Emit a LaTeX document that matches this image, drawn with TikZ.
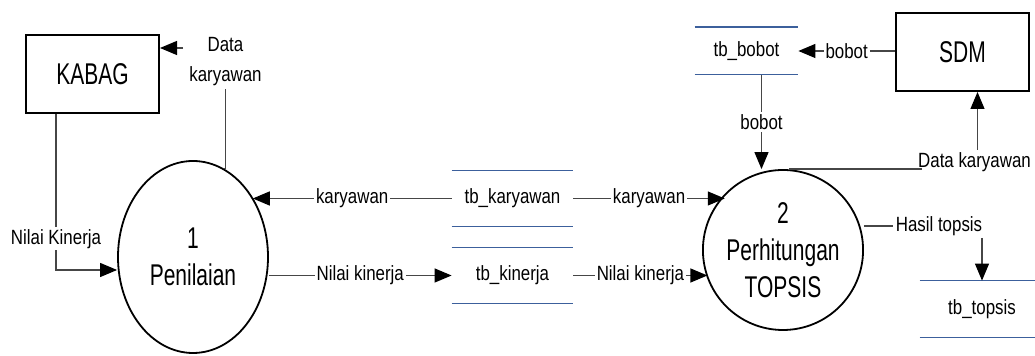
\documentclass[tikz,border=0pt]{standalone}
\usepackage{fontspec}
\usepackage{tikz}
\usetikzlibrary{shapes.geometric,arrows.meta}
\setmainfont[FakeStretch=0.82]{Liberation Sans}
\newfontfamily\bigfont[FakeStretch=0.7]{Liberation Sans}
\definecolor{storeblue}{RGB}{60,96,156}
\definecolor{flowgray}{RGB}{70,70,70}
\tikzset{entity/.style={draw, line width=1pt, minimum width=66.5pt, minimum height=39pt, font=\bigfont\fontsize{15}{17}\selectfont},
  process/.style={draw, ellipse, line width=0.9pt, align=center, inner sep=0pt, font=\bigfont\fontsize{15}{18.5}\selectfont},
  store/.style={inner sep=0pt, font=\fontsize{10.3}{12}\selectfont},
  storeline/.style={draw=storeblue, line width=0.6pt},
  line/.style={draw=flowgray, line width=0.6pt},
  flow/.style={line, -{Triangle[length=8.5pt,width=7pt,color=black]}},
  lbl/.style={fill=white, inner sep=1pt, align=center, font=\fontsize{10.3}{15}\selectfont}}

\begin{document}
\begin{tikzpicture}[x=0.5pt, y=-0.5pt]
  \useasboundingbox (0,0) rectangle (1035,356);

  % external entities
  \node [entity] (kabag) at (92.5,74) {KABAG};
  \node [entity] (sdm) at (962.5,52) {SDM};

  % processes
  \node [process, minimum width=75pt, minimum height=96pt] (p1) at (193,257) {1\\Penilaian};
  \node [process, minimum width=72pt, minimum height=80pt] (p2) at (783,250) {2\\Perhitungan\\TOPSIS};

  % data stores
  \node [store, minimum width=60.5pt, minimum height=27.5pt] (kar) at (512.5,198.5) {tb\_karyawan};
  \node [store, minimum width=60.5pt, minimum height=27.5pt] (kin) at (512.5,275.5) {tb\_kinerja};
  \node [store, minimum width=51.5pt, minimum height=23.5pt] (bob) at (746.5,51) {tb\_bobot};
  \node [store, minimum width=62pt, minimum height=28pt] (top) at (982,309) {tb\_topsis};
  \foreach \s in {kar,kin,bob,top}
    \draw [storeline] (\s.north west) -- (\s.north east) (\s.south west) -- (\s.south east);

  % labels standing at corners
  \node [lbl] (dk1) at (225.5,62) {Data\\karyawan};
  \node [lbl] (dk2) at (974.5,162) {Data karyawan};
  \node [lbl] (hs) at (939,226) {Hasil topsis};
  \coordinate (dkin) at (183,48);

  % flows
  \draw [line] (p1.71) -- (dk1.south |- p1.71) -- (dk1.south);
  \draw [flow] (dkin) -- (dkin -| kabag.east);
  \draw [flow] ([xshift=-18.25pt]kabag.south) -- node[lbl, pos=0.8] {Nilai Kinerja} ([xshift=-18.25pt]kabag.south |- 0,270) -- ([yshift=-6.5pt]p1.west);
  \draw [flow] (kar.west) -- node[lbl] {karyawan} (p1.45 |- kar.west);
  \draw [flow] (p1.east |- kin.west) -- node[lbl] {Nilai kinerja} (kin.west);
  \draw [flow] (kar.east) -- node[lbl] {karyawan} (p2.136 |- kar.east);
  \draw [flow] (kin.east) -- node[lbl] {Nilai kinerja} (p2.201 |- kin.east);
  \draw [flow] (sdm.west |- bob.east) -- node[lbl] {bobot} (bob.east);
  \draw [flow] ([xshift=7.5pt]bob.south) -- node[lbl] {bobot} ([xshift=7.5pt]bob.south |- p2.north);
  \draw [line] ([xshift=3pt]p2.north) -- ([xshift=3pt]p2.north -| dk2.west);
  \draw [flow] ([xshift=1.5pt]dk2.north) -- ([xshift=1.5pt]dk2.north |- sdm.south);
  \draw [line] (hs.west -| p2.east) -- (hs.west);
  \draw [flow] (top |- hs.south) -- (top.north);
\end{tikzpicture}
\end{document}
